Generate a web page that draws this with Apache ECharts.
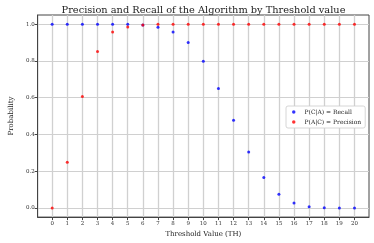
<!DOCTYPE html>
<html>
<head>
<meta charset="utf-8">
<script src="https://cdn.jsdelivr.net/npm/echarts@6/dist/echarts.min.js"></script>
<style>html,body{margin:0;padding:0;background:#fff}#c{width:374px;height:243px}</style>
</head>
<body>
<div id="c"></div>
<script>
const thresholds = [0,1,2,3,4,5,6,7,8,9,10,11,12,13,14,15,16,17,18,19,20];
const recall = [1,1,1,1,1,1,0.995,0.984,0.957,0.900,0.798,0.650,0.477,0.304,0.165,0.075,0.027,0.007,0.001,0,0];
const precision = [0,0.248,0.607,0.852,0.957,0.985,0.996,0.999,1,1,1,1,1,1,1,1,1,1,1,1,1];
const yTicks = [0,0.2,0.4,0.6,0.8,1.0];
const xTicks = thresholds;
const titleText = 'Precision and Recall of the Algorithm by Threshold value';
const recallName = 'P(C|A) = Recall';
const precisionName = 'P(A|C) = Precision';

const F = 'DejaVu Serif';
const chart = echarts.init(document.getElementById('c'), null, {renderer:'canvas'});
chart.setOption({
  animation:false,
  backgroundColor:'#fff',
  title:{text:titleText,left:198.5,textAlign:'center',top:0,
    textStyle:{fontFamily:F,fontSize:9.8,fontWeight:'normal',color:'#222'}},
  grid:{left:28,right:5,top:15,bottom:24,show:true,borderColor:'#444',borderWidth:1,backgroundColor:'transparent'},
  legend:{left:286,top:106,orient:'vertical',itemWidth:3.5,itemHeight:3.5,itemGap:4,
    padding:[3,4,3,6],backgroundColor:'#fff',borderColor:'#ccc',borderWidth:0.8,borderRadius:2,
    textStyle:{fontFamily:F,fontSize:6,color:'#222',padding:[0,0,0,4]},
    data:[{name:recallName,icon:'circle'},{name:precisionName,icon:'circle'}]},
  xAxis:{type:'value',min:-0.96,max:20.96,
    name:'Threshold Value (TH)',nameLocation:'middle',nameGap:11,
    nameTextStyle:{fontFamily:F,fontSize:7,color:'#222'},
    axisLine:{show:true,onZero:false,lineStyle:{color:'#444'}},
    axisTick:{show:true,length:3,customValues:xTicks,lineStyle:{color:'#444'}},
    axisLabel:{customValues:xTicks,fontFamily:F,fontSize:5.5,color:'#333',margin:3,formatter:v=>String(v)},
    splitLine:{show:true,lineStyle:{color:'#d0d0d0',width:1.3}}},
  yAxis:{type:'value',min:-0.05,max:1.05,
    name:'Probability',nameLocation:'middle',nameGap:18,
    nameTextStyle:{fontFamily:F,fontSize:7,color:'#222'},
    axisLine:{show:true,onZero:false,lineStyle:{color:'#444'}},
    axisTick:{show:true,length:3,customValues:yTicks,lineStyle:{color:'#444'}},
    axisLabel:{customValues:yTicks,fontFamily:F,fontSize:5.5,color:'#333',margin:3,formatter:v=>v.toFixed(1)},
    splitLine:{show:true,lineStyle:{color:'#d0d0d0',width:1}}},
  series:[
    {name:recallName,type:'scatter',symbol:'circle',symbolSize:3,itemStyle:{color:'#0000ff'},
      data:thresholds.map((t,i)=>[t,recall[i]])},
    {name:precisionName,type:'scatter',symbol:'circle',symbolSize:3,itemStyle:{color:'#ff0000'},
      data:thresholds.map((t,i)=>[t,precision[i]])}
  ]
});
</script>
</body>
</html>
